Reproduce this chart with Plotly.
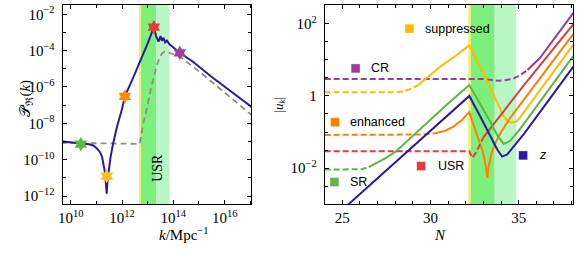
import numpy as np
import plotly.graph_objects as go

# ---------------- data: left panel (log10 k, log10 P_R) ----------------
logk_blue = [9.6, 10.0, 10.39, 10.7, 10.88, 11.0, 11.14, 11.22, 11.27, 11.32, 11.36, 11.4,
             11.43, 11.46, 11.5, 11.55, 11.65, 11.8, 12.0, 12.11, 12.4, 12.69, 13.0, 13.24,
             13.33, 13.42, 13.5, 13.55, 13.62, 13.68, 13.75, 13.85, 14.0, 14.25, 14.75, 15.5, 17.1]
logP_blue = [-9.0, -9.03, -9.1, -9.15, -9.22, -9.35, -9.59, -9.85, -10.22, -10.6, -11.14, -11.87,
             -11.2, -10.77, -10.3, -9.86, -9.12, -8.2, -7.2, -6.52, -5.6, -4.65, -3.6, -2.71,
             -3.2, -3.5, -3.2, -3.45, -3.3, -3.55, -3.45, -3.65, -3.82, -4.12, -4.6, -5.45, -7.15]

logk_gray = [9.6, 12.69, 12.82, 12.95, 13.14, 13.33, 13.46, 13.56, 13.66, 13.85, 14.23, 15.14, 17.1]
logP_gray = [-9.07, -9.13, -8.03, -7.3, -6.02, -4.93, -4.38, -4.15, -4.05, -4.12, -4.3, -5.3, -7.6]

star_logk = [10.39, 11.4, 12.11, 13.24, 14.25]
star_logP = [-9.15, -10.9, -6.52, -2.71, -4.12]
star_colors = ["#5cb646", "#ffc020", "#ff8a00", "#e83a3a", "#a0409a"]

# USR band edges in log10 k: yellow start, green start, bright end, light end
band_k = [12.66, 12.74, 13.33, 13.85]
# USR band edges in N
band_N = [32.14, 32.29, 33.64, 34.86]

# ---------------- data: right panel (N, log10 |u_k|) ----------------
z_N = [24.9, 32.2, 32.8, 33.4, 33.8, 34.06, 34.35, 34.8, 35.3, 38.1]
z_u = [-3.2, 0.0, -0.55, -1.1, -1.5, -1.68, -1.62, -1.35, -1.05, 0.81]

SR_N_d = [24.0, 25.0, 26.1, 26.5]
SR_u_d = [-2.04, -2.04, -2.03, -1.97]
SR_N_s = [26.5, 27.0, 27.5, 28.0, 29.0, 30.0, 31.0, 32.2, 32.8, 33.4, 33.8, 34.15, 34.5, 35.0, 38.1]
SR_u_s = [-1.97, -1.84, -1.71, -1.55, -1.1, -0.66, -0.21, 0.3, -0.2, -0.72, -1.1, -1.33, -1.25, -0.97, 1.11]

EN_N_d = [24.0, 27.0, 29.5, 30.2]
EN_u_d = [-1.08, -1.08, -1.07, -1.04]
EN_N_s = [30.2, 30.8, 31.3, 31.8, 32.2, 32.6, 33.0, 33.15, 33.22, 33.3, 33.45, 33.68, 34.0, 34.53, 38.1]
EN_u_s = [-1.04, -0.97, -0.85, -0.66, -0.45, -1.0, -1.6, -2.0, -2.27, -1.95, -1.6, -1.3, -1.0, -0.6, 1.72]

USR_N_d = [24.0, 28.0, 32.2, 32.37, 32.6, 32.8, 33.0]
USR_u_d = [-1.53, -1.53, -1.53, -1.72, -1.55, -1.35, -1.15]
USR_N_s = [33.0, 35.3, 38.1]
USR_u_s = [-1.15, 0.3, 1.99]

SUP_N_d = [24.0, 26.0, 28.0, 28.5, 29.0, 29.3]
SUP_u_d = [0.1, 0.1, 0.1, 0.13, 0.22, 0.3]
SUP_N_s = [29.3, 29.84, 30.6, 31.4, 32.2, 33.2, 34.15, 34.4, 34.6, 34.9, 35.2, 38.1]
SUP_u_s = [0.3, 0.51, 0.83, 1.1, 1.4, 0.42, -0.57, -0.7, -0.74, -0.7, -0.52, 1.42]

CR_N_d = [24.0, 28.0, 33.0, 33.5, 33.9, 34.3, 34.7, 35.1, 35.5]
CR_u_d = [0.47, 0.47, 0.47, 0.44, 0.42, 0.44, 0.48, 0.58, 0.72]
CR_N_s = [35.5, 36.2, 38.1]
CR_u_s = [0.72, 1.05, 2.3]

labels = ["suppressed", "CR", "enhanced", "USR", "SR", "z"]

C_BLUE = "#2b1a9e"
C_GREEN = "#5cb646"
C_ORANGE = "#ff8000"
C_RED = "#e23c3c"
C_YELLOW = "#ffbb00"
C_PURPLE = "#9b3d98"
label_colors = [C_YELLOW, C_PURPLE, C_ORANGE, C_RED, C_GREEN, C_BLUE]

W, H = 584, 257
def px(x):
    return x / W
def py(y):
    return 1 - y / H

p10 = lambda a: list(np.power(10.0, np.array(a, dtype=float)))

fig = go.Figure()

# left panel
fig.add_trace(go.Scatter(x=p10(logk_gray), y=p10(logP_gray), mode="lines",
                         line=dict(color="#8c8c8c", width=1.8, dash="6px,4px"),
                         xaxis="x", yaxis="y", showlegend=False))
fig.add_trace(go.Scatter(x=p10(logk_blue), y=p10(logP_blue), mode="lines",
                         line=dict(color=C_BLUE, width=2),
                         xaxis="x", yaxis="y", showlegend=False))
fig.add_trace(go.Scatter(x=p10(star_logk), y=p10(star_logP), mode="markers",
                         marker=dict(symbol="hexagram", size=11, color=star_colors,
                                     line=dict(width=0)),
                         xaxis="x", yaxis="y", showlegend=False))

# right panel
def add_pair(Nd, ud, Ns, us, color):
    if Nd:
        fig.add_trace(go.Scatter(x=Nd, y=p10(ud), mode="lines",
                                 line=dict(color=color, width=2, dash="6px,3px"),
                                 xaxis="x2", yaxis="y2", showlegend=False))
    fig.add_trace(go.Scatter(x=Ns, y=p10(us), mode="lines",
                             line=dict(color=color, width=2),
                             xaxis="x2", yaxis="y2", showlegend=False))

add_pair(CR_N_d, CR_u_d, CR_N_s, CR_u_s, C_PURPLE)
add_pair(SUP_N_d, SUP_u_d, SUP_N_s, SUP_u_s, C_YELLOW)
add_pair(EN_N_d, EN_u_d, EN_N_s, EN_u_s, C_ORANGE)
add_pair(USR_N_d, USR_u_d, USR_N_s, USR_u_s, C_RED)
add_pair(SR_N_d, SR_u_d, SR_N_s, SR_u_s, C_GREEN)
add_pair([], [], z_N, z_u, C_BLUE)

# bands
Y_COL = "#eef070"
G_COL = "#7cef7c"
L_COL = "#b9f8c6"
shapes = []
for xr, yr, edges in [("x", "y domain", p10(band_k)), ("x2", "y2 domain", band_N)]:
    for (a, b, c) in [(edges[0], edges[1], Y_COL), (edges[1], edges[2], G_COL), (edges[2], edges[3], L_COL)]:
        shapes.append(dict(type="rect", xref=xr, yref=yr, x0=a, x1=b, y0=0, y1=1,
                           fillcolor=c, line=dict(width=0), layer="below"))

# legend squares and labels
leg_pos = [(408.3, 27.7, 421.7), (354, 67.7, 368), (333.3, 121.7, 346.7),
           (420, 165.7, 435), (332.7, 181.7, 346), (522.7, 155, 536.7)]
annotations = []
s = 4.5
for (cx, cy, tx), lab, col in zip(leg_pos, labels, label_colors):
    shapes.append(dict(type="rect", xref="paper", yref="paper",
                       x0=px(cx - s), x1=px(cx + s), y0=py(cy + s), y1=py(cy - s),
                       fillcolor=col, line=dict(width=0.6, color="rgba(255,255,255,0.6)")))
    text = "<i>%s</i>" % lab if lab == "z" else lab
    annotations.append(dict(text=text, xref="paper", yref="paper", x=px(tx), y=py(cy),
                            xanchor="left", yanchor="middle", showarrow=False,
                            font=dict(family="Liberation Sans, Arial", size=12.5, color="black")))

serif = "Liberation Serif, Times New Roman, serif"
annotations += [
    dict(text="USR", xref="paper", yref="paper", x=px(145), y=py(168), textangle=-90,
         showarrow=False, font=dict(family=serif, size=14, color="black")),
    dict(text="<i>k</i>/Mpc<sup>−1</sup>", xref="paper", yref="paper", x=px(154), y=py(245),
         showarrow=False, font=dict(family=serif, size=15, color="black")),
    dict(text="<i>N</i>", xref="paper", yref="paper", x=px(447), y=py(245),
         showarrow=False, font=dict(family=serif, size=15, color="black")),
    dict(text="𝒫<sub>ℜ</sub>(<i>k</i>)", xref="paper", yref="paper", x=px(11), y=py(97),
         textangle=-90, showarrow=False, font=dict(family=serif, size=15, color="black")),
    dict(text="|<i>u<sub>k</sub></i>|", xref="paper", yref="paper", x=px(277), y=py(104),
         textangle=-90, showarrow=False, font=dict(family=serif, size=13, color="black")),
]

def sup(n):
    return "10<sup>%s</sup>" % (str(n).replace("-", "−"))

kx_major = [10, 12, 14, 16]
kx_minor = [9, 11, 13, 15, 17]
P_major = [-12, -10, -8, -6, -4, -2]
P_minor = [-13, -11, -9, -7, -5, -3]
u_major = [-2, 0, 2]
u_minor = [-3, -2.5, -1.5, -1, -0.5, 0.5, 1, 1.5, 2.5]
u_text = [sup(-2), "1", sup(2)]

axis_common = dict(showline=True, linecolor="black", linewidth=1, mirror="ticks",
                   ticks="inside", ticklen=4, tickcolor="black", showgrid=False, zeroline=False,
                   tickfont=dict(family=serif, size=15, color="black"))
minor_common = dict(ticks="inside", ticklen=3, tickcolor="black", showgrid=False)

ydom = [py(204), py(4)]
fig.update_layout(
    width=W, height=H, margin=dict(l=0, r=0, t=0, b=0), autosize=False,
    paper_bgcolor="white", plot_bgcolor="white", showlegend=False,
    xaxis=dict(domain=[px(59), px(249)], type="log", range=[9.68, 17.04],
               tickvals=p10(kx_major), ticktext=[sup(e) for e in kx_major],
               minor=dict(tickvals=p10(kx_minor), **minor_common),
               anchor="y", **axis_common),
    yaxis=dict(domain=ydom, type="log", range=[-12.45, -1.49],
               tickvals=p10(P_major), ticktext=[sup(e) for e in P_major],
               minor=dict(tickvals=p10(P_minor), **minor_common),
               anchor="x", ticklabelstandoff=4, **axis_common),
    xaxis2=dict(domain=[px(322.9), px(573.3)], range=[24, 38.1], tickvals=[25, 30, 35],
                minor=dict(dtick=1, **minor_common),
                anchor="y2", **axis_common),
    yaxis2=dict(domain=ydom, type="log", range=[-3.0, 2.52],
                tickvals=p10(u_major), ticktext=u_text,
                minor=dict(tickvals=p10(u_minor), **minor_common),
                anchor="x2", ticklabelstandoff=4, **axis_common),
    shapes=shapes, annotations=annotations,
)

fig.write_html("out.html", config={"displayModeBar": False},
               post_script="document.body.style.margin='0';document.body.style.padding='0';")
